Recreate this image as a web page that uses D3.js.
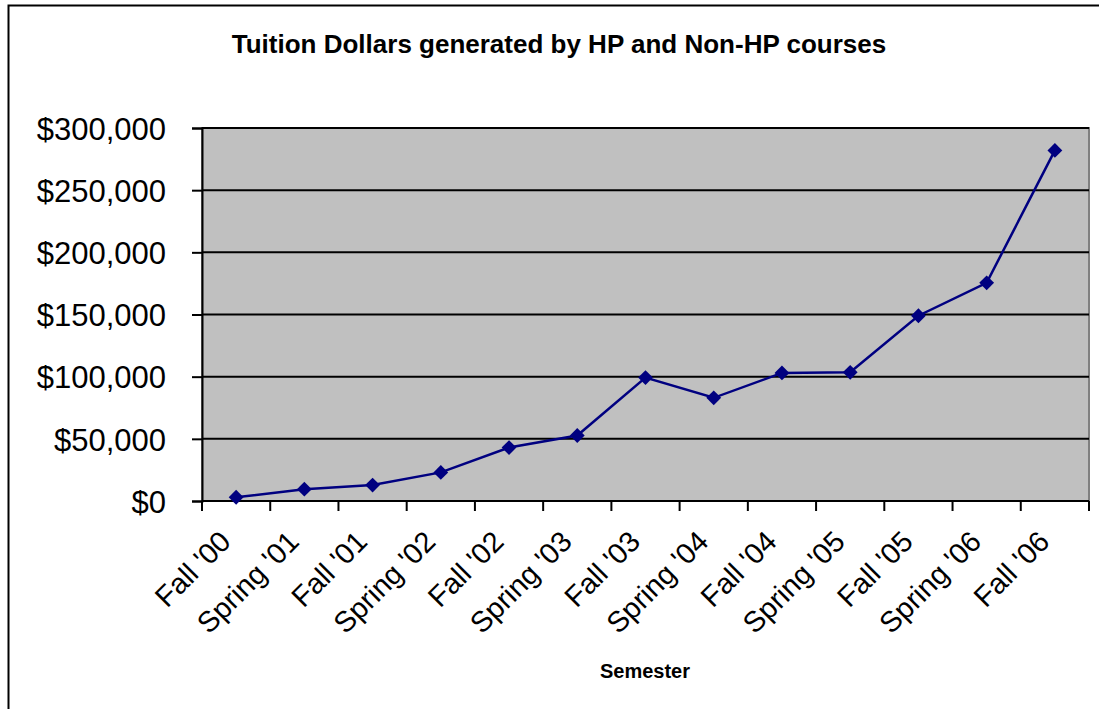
<!DOCTYPE html>
<html>
<head>
<meta charset="utf-8">
<script src="https://cdn.jsdelivr.net/npm/d3@7"></script>
<style>
  body { margin: 0; background: #fff; }
  text { font-family: Arial, "Liberation Sans", sans-serif; fill: #000; }
</style>
</head>
<body>
<div id="chart"></div>
<script>
const semesters = ["Fall '00", "Spring '01", "Fall '01", "Spring '02", "Fall '02", "Spring '03",
  "Fall '03", "Spring '04", "Fall '04", "Spring '05", "Fall '05", "Spring '06", "Fall '06"]
const tuition = [3000, 9500, 12800, 23000, 43000, 52700, 99300, 83000, 103000, 103500, 149000, 175500, 282000]
const yTicks = [0, 50000, 100000, 150000, 200000, 250000, 300000]

const W = 1099, H = 709
const margin = { top: 128, left: 202, right: 10, bottom: 208 }
const width = 1089 - margin.left
const height = 501 - margin.top

const svg = d3.select('#chart').append('svg')
  .attr('width', W).attr('height', H)

// outer chart border
svg.append('rect')
  .attr('x', 8.5).attr('y', 5.5)
  .attr('width', W + 20).attr('height', H + 20)
  .attr('fill', 'none').attr('stroke', '#000').attr('stroke-width', 2)

svg.append('text')
  .attr('x', 559).attr('y', 53)
  .attr('text-anchor', 'middle')
  .style('font-size', '26px').style('font-weight', 'bold')
  .text('Tuition Dollars generated by HP and Non-HP courses')

const g = svg.append('g').attr('transform', `translate(${margin.left},${margin.top})`)

const x = d3.scaleBand().domain(semesters).range([0, width])
const y = d3.scaleLinear().domain([0, 300000]).range([height, 0])

g.append('rect')
  .attr('width', width).attr('height', height)
  .attr('fill', '#c0c0c0').attr('stroke', '#808080').attr('stroke-width', 2)

// gridlines
g.selectAll('.grid').data(yTicks.slice(1)).enter().append('line')
  .attr('x1', 0).attr('x2', width)
  .attr('y1', d => y(d)).attr('y2', d => y(d))
  .attr('stroke', '#000').attr('stroke-width', 2)

const yAxis = g.append('g')
  .call(d3.axisLeft(y).tickValues(yTicks).tickSize(10).tickPadding(26)
    .tickFormat(d => '$' + d3.format(',')(d)))
yAxis.select('.domain').attr('stroke-width', 2)
yAxis.selectAll('line').attr('stroke-width', 2)
yAxis.selectAll('text').style('font-size', '31px').attr('dy', '0.36em')

// category boundary ticks
const bounds = semesters.map(d => x(d)).concat([width])
g.selectAll('.xtick').data(bounds).enter().append('line')
  .attr('x1', d => d).attr('x2', d => d)
  .attr('y1', height).attr('y2', height + 10)
  .attr('stroke', '#000').attr('stroke-width', 2)
g.append('line')
  .attr('x1', 0).attr('x2', width).attr('y1', height).attr('y2', height)
  .attr('stroke', '#000').attr('stroke-width', 2)

g.selectAll('.xlabel').data(semesters).enter().append('text')
  .attr('text-anchor', 'end')
  .style('font-size', '29px')
  .attr('transform', d => `translate(${x(d) + x.bandwidth() / 2 - 18},${height + 28}) rotate(-45)`)
  .attr('dy', '0.7em')
  .text(d => d)

const line = d3.line()
  .x((d, i) => x(semesters[i]) + x.bandwidth() / 2)
  .y(d => y(d))

g.append('path')
  .datum(tuition)
  .attr('d', line)
  .attr('fill', 'none').attr('stroke', '#000080').attr('stroke-width', 2.5)

g.selectAll('.pt').data(tuition).enter().append('path')
  .attr('d', d3.symbol().type(d3.symbolDiamond2).size(140))
  .attr('transform', (d, i) => `translate(${x(semesters[i]) + x.bandwidth() / 2},${y(d)})`)
  .attr('fill', '#000080')

svg.append('text')
  .attr('x', 645).attr('y', 678)
  .attr('text-anchor', 'middle')
  .style('font-size', '20px').style('font-weight', 'bold')
  .text('Semester')
</script>
</body>
</html>
